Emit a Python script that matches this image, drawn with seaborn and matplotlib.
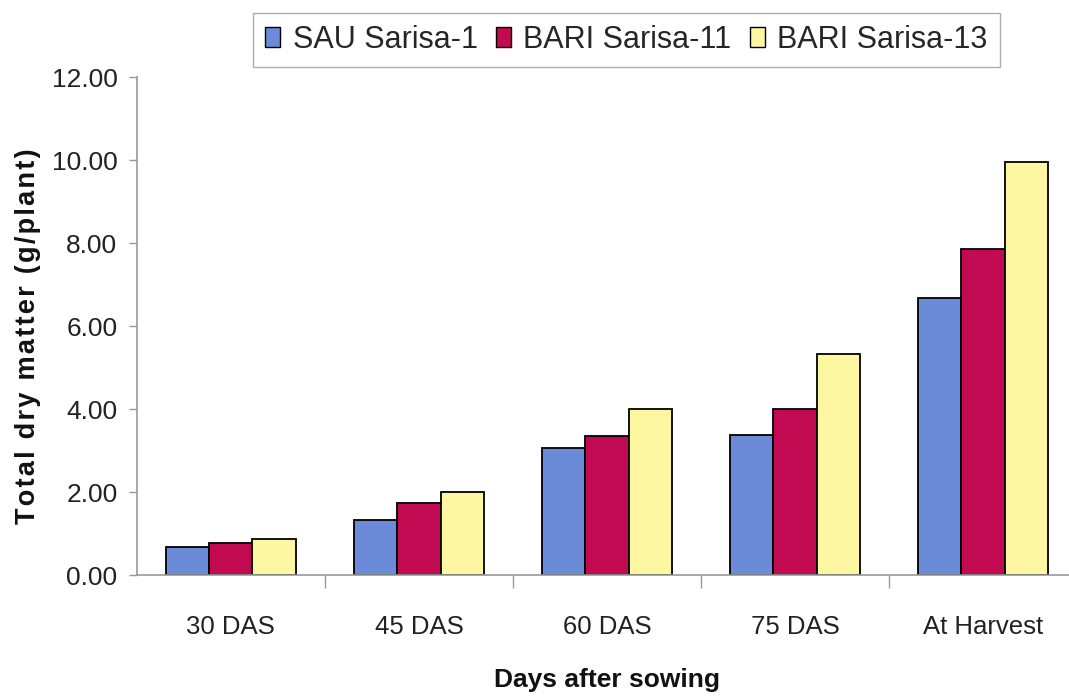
import matplotlib
matplotlib.use("Agg")
import matplotlib.pyplot as plt
import seaborn as sns
import pandas as pd

stages = ["30 DAS", "45 DAS", "60 DAS", "75 DAS", "At Harvest"]
varieties = ["SAU Sarisa-1", "BARI Sarisa-11", "BARI Sarisa-13"]
sau_sarisa_1 = [0.68, 1.33, 3.06, 3.38, 6.68]
bari_sarisa_11 = [0.77, 1.74, 3.35, 4.00, 7.85]
bari_sarisa_13 = [0.87, 2.00, 4.01, 5.33, 9.95]
yticks = [0, 2, 4, 6, 8, 10, 12]
colors = ["#6b8bd9", "#c20a52", "#fdf7a2"]

rows = []
for v, vals in zip(varieties, [sau_sarisa_1, bari_sarisa_11, bari_sarisa_13]):
    for s, val in zip(stages, vals):
        rows.append({"stage": s, "variety": v, "dm": val})
df = pd.DataFrame(rows)

sns.set_theme(style="white")
plt.rcParams["font.family"] = ["Liberation Sans", "DejaVu Sans"]

fig = plt.figure(figsize=(10.69, 6.97), dpi=100)
ax = fig.add_axes([0.128, 0.175, 0.872, 0.7145])

sns.barplot(data=df, x="stage", y="dm", hue="variety", order=stages,
            hue_order=varieties, palette=colors, width=0.69,
            edgecolor="black", linewidth=1.3, saturation=1, ax=ax,
            legend=False)

ax.set_ylim(0, 12)
ax.set_xlim(-0.5, 4.457)
ax.set_yticks(yticks)
ax.set_yticklabels([f"{t:.2f}" for t in yticks], fontsize=19, color="#222222")
ax.set_xticks(range(len(stages)))
ax.set_xticklabels(stages, fontsize=18.5, color="#222222")
ax.set_xticks([i + 0.5 for i in range(len(stages) - 1)], minor=True)
ax.tick_params(axis="x", which="major", length=0, pad=29)
ax.tick_params(axis="x", which="minor", length=9, width=1, color="#999999",
               direction="out", bottom=True)
ax.tick_params(axis="y", length=6, width=1, color="#999999", direction="out",
               left=True, pad=8)

for side in ["top", "right"]:
    ax.spines[side].set_visible(False)
for side in ["left", "bottom"]:
    ax.spines[side].set_color("#999999")
    ax.spines[side].set_linewidth(1.2)

# letter-spaced axis title
ylab = "\u200a".join("Total dry matter (g/plant)")
ax.set_ylabel(ylab, fontsize=19.5, fontweight="bold", color="#111111")
ax.yaxis.set_label_coords(-0.103, 0.48)

ax.set_xlabel("Days after sowing", fontsize=19, fontweight="bold", color="#111111",
              va="top")
ax.xaxis.set_label_coords(0.504, -0.187)

handles = [plt.Rectangle((0, 0), 1, 1, facecolor=c, edgecolor="black", linewidth=1)
           for c in colors]
fig.legend(handles, varieties, loc="center", bbox_to_anchor=(0.586, 0.943), ncol=3,
           fontsize=22, frameon=True, fancybox=False, edgecolor="#999999",
           handlelength=0.5, handleheight=0.65, handletextpad=0.4,
           columnspacing=0.6, borderpad=0.4)

fig.savefig("out.png", dpi=100)
